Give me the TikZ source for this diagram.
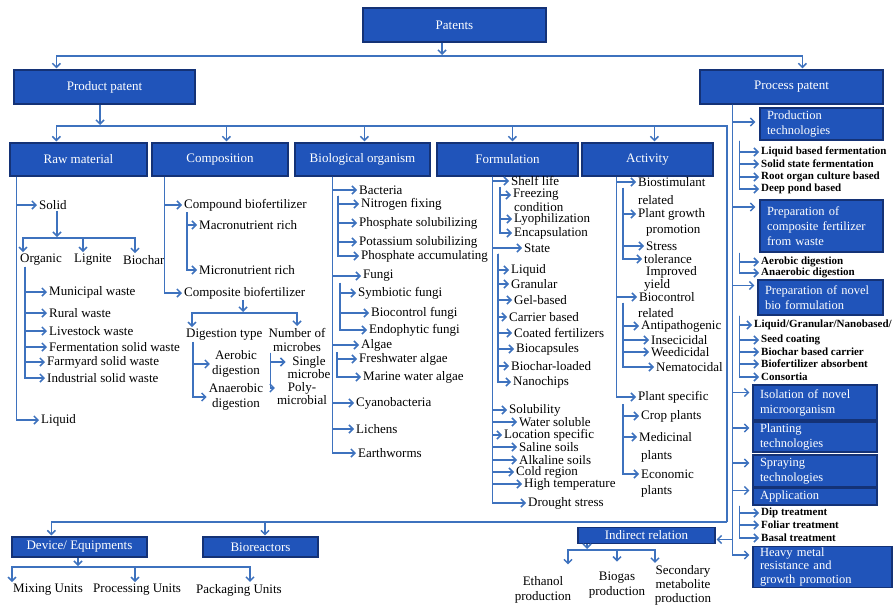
\documentclass[tikz,border=0pt]{standalone}
\usepackage{fontspec}
\setmainfont{Liberation Serif}
\usetikzlibrary{arrows.meta}
\definecolor{boxblue}{RGB}{32,84,186}
\definecolor{boxedge}{RGB}{20,50,118}
\definecolor{linkblue}{RGB}{62,114,190}
\tikzset{
  box/.style={draw=boxedge, fill=boxblue, text=white, line width=1.2pt, inner sep=1pt,
    font=\fontsize{13}{14}\selectfont},
  pbox/.style={box, align=left, inner xsep=7pt, inner ysep=1pt, font=\fontsize{12.5}{15}\selectfont},
  leaf/.style={font=\fontsize{13}{13}\selectfont, inner sep=1pt, anchor=west},
  cleaf/.style={font=\fontsize{13}{15}\selectfont, inner sep=1pt, align=center},
  bleaf/.style={font=\bfseries\fontsize{11}{12}\selectfont, inner sep=1pt, anchor=west},
  wire/.style={draw=linkblue, line width=1.5pt},
  arr/.style={wire, -{Straight Barb[length=4pt,width=8pt]}, shorten >=1pt},
}
\begin{document}
\begin{tikzpicture}[x=1pt,y=-1pt]
    \useasboundingbox (0,0) rectangle (894,610);
    % Top level
    \node[box, minimum width=183pt, minimum height=34pt] (pat) at (454.5,25) {Patents};
    \node[box, minimum width=181pt, minimum height=34pt] (prod) at (104.5,87) {Product patent};
    \node[box, minimum width=183pt, minimum height=34pt] (proc) at (791.5,87) {Process patent};
    \coordinate (tbar) at (442,56);
    \draw[arr] (pat.south -| tbar) -- (tbar);
    \draw[arr] (tbar) -| ([xshift=43pt]prod.north west);
    \draw[arr] (tbar) -| ([xshift=103pt]proc.north west);
    % Product patent row
    \node[box, minimum width=137pt, minimum height=33pt] (rm) at (78.5,159.5) {Raw material};
    \node[box, minimum width=136pt, minimum height=33pt] (comp) at (220,159.5) {Composition};
    \node[box, minimum width=135pt, minimum height=33pt] (bio) at (362.5,159.5) {Biological organism};
    \node[box, minimum width=141pt, minimum height=33pt] (form) at (507.5,159.5) {Formulation};
    \node[box, minimum width=131pt, minimum height=33pt] (act) at (647.5,159.5) {Activity};
    \coordinate (pbar) at (100,126);
    \coordinate (pend) at (727,522);
    \draw[arr] (prod.south -| pbar) -- (pbar);
    \draw[wire] (pbar) -| (pend);
    \draw[arr] (pbar) -| ([xshift=47pt]rm.north west);
    \draw[arr] (pbar) -| ([xshift=75pt]comp.north west);
    \draw[arr] (pbar) -| ([xshift=70pt]bio.north west);
    \draw[arr] (pbar) -| ([xshift=76pt]form.north west);
    \draw[arr] (pbar) -| ([xshift=73pt]act.north west);
    % Raw material
    \node[leaf] (solid) at (38,205) {Solid};
    \node[leaf] (liquid) at (40,420) {Liquid};
    \draw[arr] ([xshift=7pt]rm.south west) |- (solid.west);
    \draw[arr] ([xshift=7pt]rm.south west) |- (liquid.west);
    \coordinate (sbar) at (57,238);
    \draw[arr] (solid.south -| sbar) -- (sbar);
    \node[leaf] (organic) at (19,260) {Organic};
    \node[leaf] (lignite) at (73,260) {Lignite};
    \node[leaf] (biochar) at (122,260) {Biochar};
    \draw[arr] (sbar) -| ([xshift=4pt]organic.north west);
    \draw[arr] (sbar) -| ([xshift=10pt]lignite.north west);
    \draw[arr] (sbar) -| ([xshift=13pt]biochar.north west);
    \node[leaf] (muni) at (48,292) {Municipal waste};
    \node[leaf] (rural) at (48,313) {Rural waste};
    \node[leaf] (live) at (48,331) {Livestock waste};
    \node[leaf] (ferm) at (48,347) {Fermentation solid waste};
    \node[leaf] (farm) at (46,362) {Farmyard solid waste};
    \node[leaf] (indus) at (46,378) {Industrial solid waste};
    \draw[arr] ([xshift=6pt]organic.south west) |- (muni.west);
    \draw[arr] ([xshift=6pt]organic.south west) |- (rural.west);
    \draw[arr] ([xshift=6pt]organic.south west) |- (live.west);
    \draw[arr] ([xshift=6pt]organic.south west) |- (ferm.west);
    \draw[arr] ([xshift=6pt]organic.south west) |- (farm.west);
    \draw[arr] ([xshift=6pt]organic.south west) |- (indus.west);
    % Composition
    \node[leaf] (cpd) at (183,205) {Compound biofertilizer};
    \node[leaf] (cps) at (183,293) {Composite biofertilizer};
    \draw[arr] ([xshift=13pt]comp.south west) |- (cpd.west);
    \draw[arr] ([xshift=13pt]comp.south west) |- (cps.west);
    \node[leaf] (macro) at (198,225) {Macronutrient rich};
    \node[leaf] (micro) at (198,270) {Micronutrient rich};
    \draw[arr] ([xshift=4pt]cpd.south west) |- (macro.west);
    \draw[arr] ([xshift=4pt]cpd.south west) |- (micro.west);
    \coordinate (cbar) at (243,313);
    \draw[arr] (cps.south -| cbar) -- (cbar);
    \node[leaf] (dig) at (185,335) {Digestion type};
    \node[cleaf, anchor=north, font=\fontsize{13}{14}\selectfont] (nmic) at (297,327) {Number of\\microbes};
    \draw[arr] (cbar) -| ([xshift=7pt]dig.north west);
    \draw[arr] (cbar) -| (nmic.north);
    \node[cleaf] (aerob) at (236,364) {Aerobic\\digestion};
    \node[cleaf] (anaerob) at (236,397) {Anaerobic\\digestion};
    \draw[arr] ([xshift=8pt]dig.south west) |- (aerob.west);
    \draw[arr] ([xshift=8pt]dig.south west) |- (anaerob.west);
    \node[cleaf, font=\fontsize{13}{13}\selectfont] (single) at (309,368) {Single\\microbe};
    \node[cleaf, font=\fontsize{13}{13}\selectfont] (poly) at (302,394) {Poly-\\microbial};
    \draw[arr] ([xshift=3pt]nmic.south west) |- ([yshift=6pt]single.west);
    \draw[arr] ([xshift=3pt]nmic.south west) |- ([yshift=6pt]poly.west);
    % Biological organism
    \node[leaf] (bact) at (358,190) {Bacteria};
    \node[leaf] (nfix) at (360,204) {Nitrogen fixing};
    \node[leaf] (psol) at (358,223) {Phosphate solubilizing};
    \node[leaf] (ksol) at (358,242) {Potassium solubilizing};
    \node[leaf] (pacc) at (360,256) {Phosphate accumulating};
    \draw[arr] ([xshift=38pt]bio.south west) |- (bact.west);
    \draw[arr] ([xshift=-20pt]bact.south west) |- (nfix.west);
    \draw[arr] ([xshift=-20pt]bact.south west) |- (psol.west);
    \draw[arr] ([xshift=-20pt]bact.south west) |- (ksol.west);
    \draw[arr] ([xshift=-20pt]bact.south west) |- (pacc.west);
    \node[leaf] (fungi) at (362,276) {Fungi};
    \node[leaf] (symb) at (357,293) {Symbiotic fungi};
    \node[leaf] (bcf) at (370,313) {Biocontrol fungi};
    \node[leaf] (endo) at (368,330) {Endophytic fungi};
    \draw[arr] ([xshift=38pt]bio.south west) |- (fungi.west);
    \draw[arr] ([xshift=-22pt]fungi.south west) |- (symb.west);
    \draw[arr] ([xshift=-22pt]fungi.south west) |- (bcf.west);
    \draw[arr] ([xshift=-22pt]fungi.south west) |- (endo.west);
    \node[leaf] (algae) at (360,345) {Algae};
    \node[leaf] (fresh) at (358,359) {Freshwater algae};
    \node[leaf] (marine) at (362,377) {Marine water algae};
    \draw[arr] ([xshift=38pt]bio.south west) |- (algae.west);
    \draw[arr] ([xshift=-23pt]algae.south west) |- (fresh.west);
    \draw[arr] ([xshift=-23pt]algae.south west) |- (marine.west);
    \node[leaf] (cyano) at (355,403) {Cyanobacteria};
    \node[leaf] (lichen) at (355,429) {Lichens};
    \node[leaf] (earth) at (357,453) {Earthworms};
    \draw[arr] ([xshift=38pt]bio.south west) |- (cyano.west);
    \draw[arr] ([xshift=38pt]bio.south west) |- (lichen.west);
    \draw[arr] ([xshift=38pt]bio.south west) |- (earth.west);
    % Formulation
    \node[leaf] (shelf) at (510,181) {Shelf life};
    \node[leaf] (freez) at (512,195) {Freezing};
    \node[leaf] (cond) at (513,207) {condition};
    \node[leaf] (lyo) at (513,219) {Lyophilization};
    \node[leaf] (encap) at (513,233) {Encapsulation};
    \draw[arr] ([xshift=56pt]form.south west) |- (shelf.west);
    \draw[arr] ([xshift=-10pt]shelf.south west) |- (freez.west);
    \draw[arr] ([xshift=-10pt]shelf.south west) |- (lyo.west);
    \draw[arr] ([xshift=-10pt]shelf.south west) |- (encap.west);
    \node[leaf] (state) at (523,248) {State};
    \draw[arr] ([xshift=56pt]form.south west) |- (state.west);
    \node[leaf] (fliq) at (510,270) {Liquid};
    \node[leaf] (gran) at (510,284) {Granular};
    \node[leaf] (gel) at (513,300) {Gel-based};
    \node[leaf] (carr) at (508,317) {Carrier based};
    \node[leaf] (coat) at (513,333) {Coated fertilizers};
    \node[leaf] (bcap) at (515,349) {Biocapsules};
    \node[leaf] (bload) at (510,366) {Biochar-loaded};
    \node[leaf] (nano) at (512,382) {Nanochips};
    \draw[arr] ([xshift=-25pt]state.south west) |- (fliq.west);
    \draw[arr] ([xshift=-25pt]state.south west) |- (gran.west);
    \draw[arr] ([xshift=-25pt]state.south west) |- (gel.west);
    \draw[arr] ([xshift=-25pt]state.south west) |- (carr.west);
    \draw[arr] ([xshift=-25pt]state.south west) |- (coat.west);
    \draw[arr] ([xshift=-25pt]state.south west) |- (bcap.west);
    \draw[arr] ([xshift=-25pt]state.south west) |- (bload.west);
    \draw[arr] ([xshift=-25pt]state.south west) |- (nano.west);
    \node[leaf] (solu) at (508,410) {Solubility};
    \node[leaf] (wsol) at (518,422) {Water soluble};
    \node[leaf] (locs) at (503,435) {Location specific};
    \node[leaf] (sal) at (518,447) {Saline soils};
    \node[leaf] (alk) at (518,460) {Alkaline soils};
    \node[leaf] (cold) at (515,472) {Cold region};
    \node[leaf] (hot) at (523,484) {High temperature};
    \node[leaf] (drou) at (527,503) {Drought stress};
    \draw[arr] ([xshift=56pt]form.south west) |- (solu.west);
    \draw[arr] ([xshift=56pt]form.south west) |- (wsol.west);
    \draw[arr] ([xshift=56pt]form.south west) |- (locs.west);
    \draw[arr] ([xshift=56pt]form.south west) |- (sal.west);
    \draw[arr] ([xshift=56pt]form.south west) |- (alk.west);
    \draw[arr] ([xshift=56pt]form.south west) |- (cold.west);
    \draw[arr] ([xshift=56pt]form.south west) |- (hot.west);
    \draw[arr] ([xshift=56pt]form.south west) |- (drou.west);
    % Activity
    \node[leaf] (bstim) at (637,182) {Biostimulant};
    \node[leaf] (rel1) at (637,200) {related};
    \node[leaf] (pgro) at (637,214) {Plant growth};
    \node[leaf] (promo) at (645,231) {promotion};
    \node[leaf] (stress) at (645,246) {Stress};
    \node[leaf] (toler) at (643,259) {tolerance};
    \node[leaf] (impr) at (645,272) {Improved};
    \node[leaf] (yield) at (643,285) {yield};
    \draw[arr] ([xshift=35pt]act.south west) |- (bstim.west);
    \draw[arr] ([xshift=-14pt]bstim.south west) |- (pgro.west);
    \draw[arr] ([xshift=-14pt]bstim.south west) |- (stress.west);
    \draw[arr] ([xshift=-14pt]bstim.south west) |- (toler.west);
    \node[leaf] (bctl) at (638,297) {Biocontrol};
    \node[leaf] (rel2) at (637,313) {related};
    \node[leaf] (antip) at (640,326) {Antipathogenic};
    \node[leaf] (insec) at (650,340) {Insecicidal};
    \node[leaf] (weed) at (650,352) {Weedicidal};
    \node[leaf] (nema) at (655,367) {Nematocidal};
    \draw[arr] ([xshift=35pt]act.south west) |- (bctl.west);
    \draw[arr] ([xshift=-15pt]bctl.south west) |- (antip.west);
    \draw[arr] ([xshift=-15pt]bctl.south west) |- (insec.west);
    \draw[arr] ([xshift=-15pt]bctl.south west) |- (weed.west);
    \draw[arr] ([xshift=-15pt]bctl.south west) |- (nema.west);
    \node[leaf] (pspec) at (637,397) {Plant specific};
    \node[leaf] (crop) at (640,416) {Crop plants};
    \node[leaf] (medi) at (638,437) {Medicinal};
    \node[leaf] (pl1) at (640,456) {plants};
    \node[leaf] (econ) at (640,474) {Economic};
    \node[leaf] (pl2) at (640,491) {plants};
    \draw[arr] ([xshift=35pt]act.south west) |- (pspec.west);
    \draw[arr] ([xshift=-14pt]pspec.south west) |- (crop.west);
    \draw[arr] ([xshift=-14pt]pspec.south west) |- (medi.west);
    \draw[arr] ([xshift=-14pt]pspec.south west) |- (econ.west);
    % Device and bioreactors
    \node[box, minimum width=135pt, minimum height=20pt] (dev) at (79.5,547) {Device/ Equipments};
    \node[box, minimum width=115pt, minimum height=20pt] (bior) at (260.5,547) {Bioreactors};
    \draw[arr] (pend) -| ([xshift=40pt]dev.north west);
    \draw[arr] (pend) -| ([xshift=4.5pt]bior.north);
    \coordinate (dbar) at (78,567);
    \draw[arr] (dev.south -| dbar) -- (dbar);
    \node[leaf] (mix) at (12,590) {Mixing Units};
    \node[leaf] (procu) at (92,590) {Processing Units};
    \node[leaf] (pack) at (195,590) {Packaging Units};
    \draw[arr] (dbar) -| (mix.north west);
    \draw[arr] (dbar) -| ([xshift=43pt]procu.north west);
    \draw[arr] (dbar) -| ([xshift=55pt]pack.north west);
    % Process patent
    \node[pbox, text width=109pt, minimum height=32pt] (ptech) at (821.5,124) {Production\\technologies};
    \node[pbox, text width=109pt, minimum height=52pt] (pcomp) at (821.5,226) {Preparation of\\composite fertilizer\\from waste};
    \node[pbox, text width=111pt, minimum height=35pt] (pnovel) at (820.5,297.5) {Preparation of novel\\bio formulation};
    \node[pbox, text width=110pt, minimum height=35pt] (isol) at (815,402.5) {Isolation of novel\\microorganism};
    \node[pbox, text width=110pt, minimum height=30pt] (plant) at (815,437) {Planting\\technologies};
    \node[pbox, text width=110pt, minimum height=32pt] (spray) at (815,471) {Spraying\\technologies};
    \node[pbox, text width=110pt, minimum height=17pt] (appl) at (815,496.5) {Application};
    \node[pbox, text width=125pt, minimum height=40pt, font=\fontsize{12.5}{13.5}\selectfont] (heavy) at (822.5,567) {Heavy metal\\resistance and\\growth promotion};
    \draw[arr, shorten >=4pt] ([xshift=33pt]proc.south west) |- ([yshift=2pt]ptech.west);
    \draw[arr, shorten >=4pt] ([xshift=33pt]proc.south west) |- ([yshift=19pt]pcomp.west);
    \draw[arr, shorten >=3pt] ([xshift=33pt]proc.south west) |- ([yshift=12pt]pnovel.west);
    \draw[arr, shorten >=3pt] ([xshift=33pt]proc.south west) |- ([yshift=10pt]isol.west);
    \draw[arr, shorten >=3pt] ([xshift=33pt]proc.south west) |- ([yshift=9pt]plant.west);
    \draw[arr, shorten >=3pt] ([xshift=33pt]proc.south west) |- ([yshift=8pt]spray.west);
    \draw[arr, shorten >=3pt] ([xshift=33pt]proc.south west) |- ([yshift=6pt]appl.west);
    \draw[arr, shorten >=3pt] ([xshift=33pt]proc.south west) |- ([yshift=12pt]heavy.west);
    \node[bleaf] (lbf) at (760,152) {Liquid based fermentation};
    \node[bleaf] (ssf) at (760,164) {Solid state fermentation};
    \node[bleaf] (roc) at (760,177) {Root organ culture based};
    \node[bleaf] (dpb) at (760,189) {Deep pond based};
    \draw[arr] ([xshift=-20pt]ptech.south west) |- (lbf.west);
    \draw[arr] ([xshift=-20pt]ptech.south west) |- (ssf.west);
    \draw[arr] ([xshift=-20pt]ptech.south west) |- (roc.west);
    \draw[arr] ([xshift=-20pt]ptech.south west) |- (dpb.west);
    \node[bleaf] (aerd) at (760,262) {Aerobic digestion};
    \node[bleaf] (anad) at (760,273) {Anaerobic digestion};
    \draw[arr] ([xshift=-20pt]pcomp.south west) |- (aerd.west);
    \draw[arr] ([xshift=-20pt]pcomp.south west) |- (anad.west);
    \node[bleaf] (lgn) at (753,325) {Liquid/Granular/Nanobased/};
    \node[bleaf] (seed) at (760,340) {Seed coating};
    \node[bleaf] (bcc) at (760,352) {Biochar based carrier};
    \node[bleaf] (bfa) at (760,364) {Biofertilizer absorbent};
    \node[bleaf] (cons) at (760,377) {Consortia};
    \draw[arr] ([xshift=-18pt]pnovel.south west) |- (lgn.west);
    \draw[arr] ([xshift=-18pt]pnovel.south west) |- (seed.west);
    \draw[arr] ([xshift=-18pt]pnovel.south west) |- (bcc.west);
    \draw[arr] ([xshift=-18pt]pnovel.south west) |- (bfa.west);
    \draw[arr] ([xshift=-18pt]pnovel.south west) |- (cons.west);
    \node[bleaf] (dip) at (760,513) {Dip treatment};
    \node[bleaf] (fol) at (760,525) {Foliar treatment};
    \node[bleaf] (basal) at (760,538) {Basal treatment};
    \draw[arr] ([xshift=-13pt]appl.south west) |- (dip.west);
    \draw[arr] ([xshift=-13pt]appl.south west) |- (fol.west);
    \draw[arr] ([xshift=-13pt]appl.south west) |- (basal.west);
    % Indirect relation
    \node[box, minimum width=137pt, minimum height=16pt, inner ysep=0pt] (indr) at (646.5,535.5) {Indirect relation};
    \draw[arr] ([xshift=33pt]proc.south west) |- ([yshift=-4pt]indr.east);
    \coordinate (ibar) at (587,550);
    \draw[arr] (indr.south -| ibar) -- (ibar);
    \node[cleaf] (eth) at (543,590) {Ethanol\\production};
    \node[cleaf] (biog) at (617,585) {Biogas\\production};
    \node[cleaf, font=\fontsize{13}{14}\selectfont] (secm) at (683,585) {Secondary\\metabolite\\production};
    \draw[arr] (ibar) -| ([xshift=25pt,yshift=10pt]eth.north);
    \draw[arr] (ibar) -| ([yshift=8pt]biog.north);
    \draw[arr] (ibar) -| ([xshift=-28pt]secm.north);
\end{tikzpicture}
\end{document}
